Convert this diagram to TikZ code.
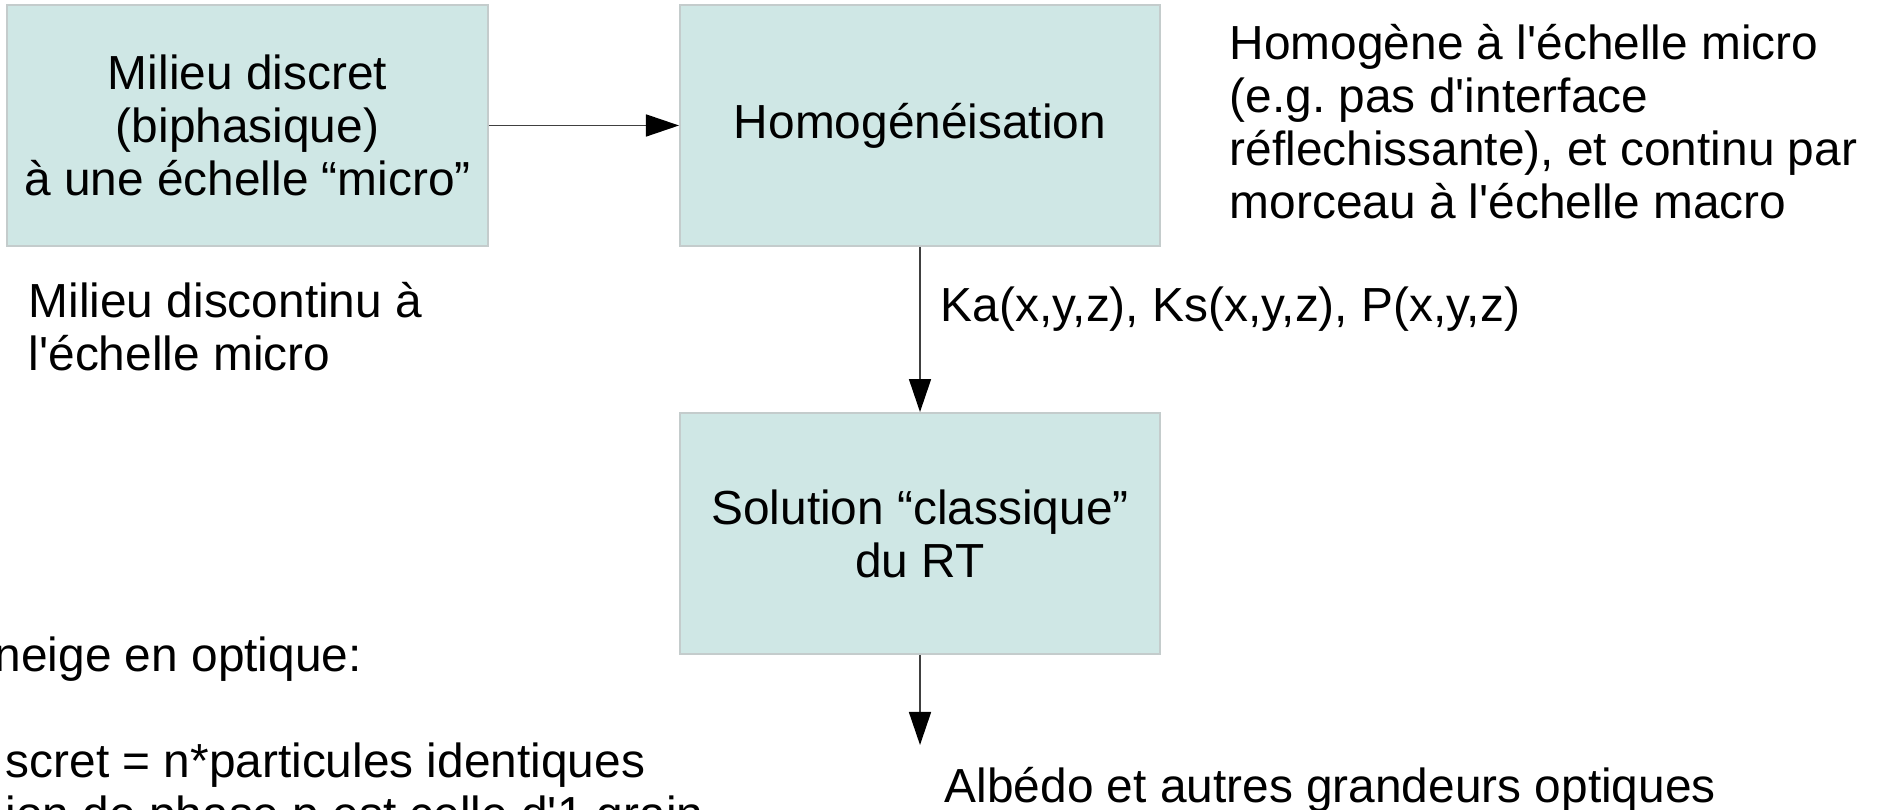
\documentclass[tikz,border=0pt]{standalone}
\usepackage{fontspec}
\setmainfont{Liberation Sans}[Ligatures=TeXOff]
\usetikzlibrary{arrows.meta}
\definecolor{boxfill}{RGB}{207,231,229}
\definecolor{boxline}{RGB}{196,204,204}
\frenchspacing

\begin{document}
\begin{tikzpicture}[x=0.01cm, y=0.01cm,
  every node/.style={font=\fontsize{13.6pt}{15.1pt}\selectfont},
  box/.style={draw=boxline, line width=0.5pt, fill=boxfill, minimum width=4.8cm,
    minimum height=2.41cm, inner sep=0pt, align=center},
  note/.style={anchor=base west, inner sep=0pt, align=left},
  flow/.style={draw=black!75, line width=0.45pt, -{Triangle[length=0.33cm, width=0.22cm, black]}}]
  \useasboundingbox (0,0) rectangle (1877,810);
  % boxes
  \node[box] (micro) at (247.5,684.5) {Milieu discret\\(biphasique)\\à une échelle “micro”};
  \node[box] (homog) at (920,684.5) {Homogénéisation};
  \node[box] (rt) at (920,276.5) {Solution “classique”\\du RT};
  \coordinate (result) at (920,65);
  % arrows
  \draw[flow] (micro) -- (homog);
  \draw[flow] (homog) -- (rt);
  \draw[flow] (rt) -- (result);
  % free texts (base = last line)
  \node[note] (homognote) at (1229,591) {Homogène à l'échelle micro\\(e.g. pas d'interface\\réflechissante), et continu par\\morceau à l'échelle macro};
  \node[note] (coefs) at (940,488) {Ka(x,y,z), Ks(x,y,z), P(x,y,z)};
  \node[note] (micronote) at (28,439) {Milieu discontinu à\\l'échelle micro};
  \node[note] (albedo) at (944,7) {Albédo et autres grandeurs optiques};
  \node[note] (neige) at (-6,138) {neige en optique:};
  \node[note] (grains) at (5,-21) {scret = n*particules identiques\\ion de phase p est celle d'1 grain};
\end{tikzpicture}
\end{document}
